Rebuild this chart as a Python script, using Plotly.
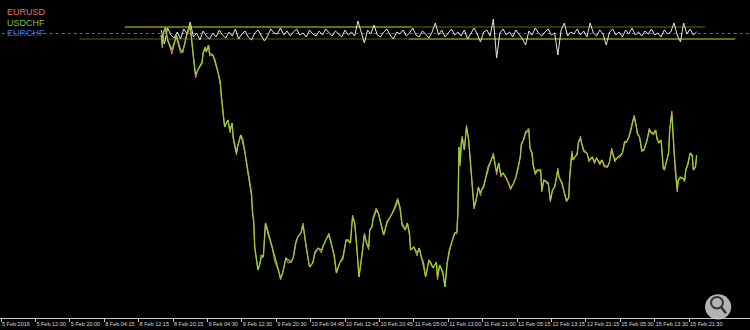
import plotly.graph_objects as go

# ---------------- data ----------------
tick_bars = [0, 32, 64, 96, 128, 160, 192, 224, 256, 288, 320, 352, 384, 416, 448, 480, 512, 544, 576, 608, 640]
tick_labels = ["5 Feb 2016", "5 Feb 12:00", "5 Feb 20:00", "8 Feb 04:15", "8 Feb 12:15", "8 Feb 20:15",
               "9 Feb 04:30", "9 Feb 12:30", "9 Feb 20:30", "10 Feb 04:45", "10 Feb 12:45", "10 Feb 20:45",
               "11 Feb 05:00", "11 Feb 13:00", "11 Feb 21:00", "12 Feb 05:15", "12 Feb 13:15", "12 Feb 21:15",
               "15 Feb 05:30", "15 Feb 13:30", "15 Feb 21:30"]

symbols = ["EURUSD", "USDCHF", "EURCHF"]
symbol_colors = ["#e07272", "#7fbf3a", "#3a6fe0"]

# USDCHF (normalised, bar index, value)
usdchf = [(149,283),(150,273),(151,285),(153,291),(155,278),(159,268),(162,278),(163,283),(167,268),(169,266),
          (171,275),(173,285),(176,293),(177,281),(179,261),(181,243),(183,248),(187,256),(188,265),(190,271),
          (191,266),(193,273),(194,265),(197,263),(199,258),(202,245),(204,236),(205,221),(207,198),(208,191),
          (211,198),(213,188),(215,195),(216,181),(219,165),(220,171),(223,183),(225,178),(227,165),(229,151),
          (231,135),(233,125),(234,105),(235,98),(236,71),(238,55),(239,48),(241,55),(242,63),(244,61),
          (246,95),(248,88),(252,71),(255,58),(258,48),(260,40),(262,45),(265,60),(267,58),(270,56),
          (272,61),(274,75),(276,81),(279,85),(281,93),(282,85),(284,71),(287,51),(290,55),(292,66),
          (295,70),(298,68),(300,73),(303,80),(305,83),(308,71),(310,63),(312,45),(315,55),(318,61),
          (321,78),(323,78),(325,75),(327,101),(329,95),(331,71),(333,41),(336,65),(338,83),(340,75),
          (342,71),(343,88),(345,91),(346,98),(349,108),(351,105),(354,93),(356,83),(359,95),(362,101),
          (364,105),(367,111),(369,118),(371,111),(373,95),(376,88),(378,95),(380,85),(381,68),(384,71),
          (387,65),(389,70),(391,61),(393,55),(395,41),(398,58),(400,55),(402,50),(405,56),(406,41),
          (408,53),(411,46),(413,31),(415,55),(417,68),(419,75),(422,85),(424,86),(425,105),(426,171),
          (427,155),(428,175),(429,180),(431,168),(433,191),(435,178),(437,151),(439,125),(440,111),(442,118),
          (444,131),(446,125),(447,128),(449,131),(451,140),(453,151),(456,158),(458,163),(460,151),(461,146),
          (463,155),(465,143),(467,145),(470,140),(472,135),(474,130),(477,135),(479,141),(481,151),(483,161),
          (484,173),(486,178),(488,185),(491,188),(492,170),(494,165),(495,153),(497,145),(499,148),(502,148),
          (503,128),(505,138),(508,136),(509,135),(511,118),(513,128),(515,131),(518,148),(519,141),(522,135),
          (524,125),(526,118),(528,120),(529,141),(531,165),(532,158),(534,161),(536,165),(537,175),(539,180),
          (540,175),(542,168),(545,165),(547,158),(550,161),(552,156),(554,160),(557,155),(559,158),(561,153),
          (564,151),(566,156),(568,168),(569,165),(571,158),(573,160),(576,163),(578,165),(580,175),(582,176),
          (584,181),(586,188),(588,198),(589,201),(591,191),(592,185),(594,181),(596,168),(598,168),(601,178),
          (603,188),(605,185),(607,185),(609,188),(610,181),(612,175),(614,178),(616,151),(617,148),(619,158),
          (621,165),(622,188),(624,205),(626,168),(627,151),(629,128),(630,138),(632,141),(634,140),(636,138),
          (637,148),(639,155),(641,165),(643,163),(644,148),(646,151),(647,163)]

# EURUSD (normalised, inverted, bar index, value)
eurusd = [(149,283),(150,270),(151,285),(153,289),(155,278),(159,264),(162,278),(163,281),(167,265),(169,266),
          (171,275),(173,283),(176,291),(177,281),(179,259),(181,240),(183,248),(187,254),(188,265),(190,269),
          (191,266),(193,273),(194,262),(197,263),(199,256),(202,245),(204,233),(205,221),(207,196),(208,191),
          (211,198),(213,185),(215,195),(216,179),(219,163),(220,171),(223,183),(225,175),(227,165),(229,149),
          (231,135),(233,122),(234,105),(235,96),(236,71),(238,52),(239,48),(241,55),(242,60),(244,61),
          (246,95),(248,85),(252,71),(255,55),(258,48),(260,38),(262,45),(265,60),(267,55),(270,56),
          (272,61),(274,73),(276,81),(279,85),(281,95),(282,85),(284,69),(287,51),(290,55),(292,64),
          (295,70),(298,65),(300,73),(303,80),(305,85),(308,71),(310,60),(312,45),(315,55),(318,58),
          (321,78),(323,76),(325,75),(327,103),(329,95),(331,69),(333,41),(336,65),(338,85),(340,75),
          (342,68),(343,88),(345,91),(346,100),(349,110),(351,105),(354,90),(356,83),(359,97),(362,101),
          (364,105),(367,113),(369,120),(371,111),(373,92),(376,88),(378,95),(380,82),(381,68),(384,71),
          (387,62),(389,70),(391,61),(393,52),(395,41),(398,58),(400,53),(402,50),(405,56),(406,38),
          (408,53),(411,44),(413,31),(415,55),(417,66),(419,75),(422,85),(424,84),(425,105),(426,171),
          (427,152),(428,175),(429,182),(431,168),(433,193),(435,178),(437,149),(439,125),(440,109),(442,118),
          (444,131),(446,122),(447,128),(449,133),(451,140),(453,149),(456,158),(458,165),(460,151),(461,143),
          (463,155),(465,141),(467,145),(470,138),(472,135),(474,128),(477,135),(479,141),(481,149),(483,161),
          (484,175),(486,178),(488,187),(491,190),(492,170),(494,163),(495,153),(497,143),(499,148),(502,146),
          (503,126),(505,138),(508,134),(509,135),(511,116),(513,128),(515,131),(518,150),(519,141),(522,133),
          (524,125),(526,116),(528,120),(529,141),(531,167),(532,158),(534,161),(536,163),(537,175),(539,182),
          (540,175),(542,166),(545,165),(547,156),(550,161),(552,154),(554,160),(557,153),(559,158),(561,151),
          (564,151),(566,156),(568,170),(569,165),(571,156),(573,160),(576,161),(578,165),(580,177),(582,176),
          (584,181),(586,190),(588,198),(589,203),(591,191),(592,183),(594,181),(596,166),(598,168),(601,178),
          (603,190),(605,185),(607,183),(609,188),(610,179),(612,175),(614,178),(616,149),(617,148),(619,156),
          (621,165),(622,188),(624,207),(626,168),(627,149),(629,126),(630,138),(632,139),(634,140),(636,136),
          (637,148),(639,153),(641,165),(643,161),(644,148),(646,151),(647,161)]

# ratio line (bars 149, 152, ... 647)
ratio_start, ratio_step = 149, 3
ratio_values = [288,274,290,283,280,286,279,289,284,296,
                281,285,278,287,282,279,285,281,288,283,
                280,286,282,289,279,284,287,281,278,285,
                288,283,277,282,289,285,284,290,283,287,
                282,286,289,283,285,281,288,284,282,287,
                283,289,285,282,287,284,281,288,283,286,
                282,297,285,275,288,284,293,283,281,286,
                289,283,279,286,284,288,282,285,290,283,
                281,287,284,280,286,295,283,288,281,285,
                289,283,286,282,288,279,285,290,284,276,
                286,288,282,299,260,285,289,283,286,281,
                288,284,279,273,287,283,290,285,282,286,
                289,283,285,263,288,295,282,286,284,289,
                283,287,281,295,285,282,288,284,273,286,
                289,283,286,281,288,284,290,283,286,282,
                287,284,289,283,285,281,288,284,286,295,
                283,276,295,284,289,283,286]

# level lines: (start bar, end bar, level, colour)
levels = [(115, 382, 291, "#d8d800"), (382, 655, 291, "#6a6a00"),
          (73, 379, 279, "#5a5a10"), (379, 683, 279, "#d8d800")]
mid_level = 284.5

# ---------------- figure ----------------
fig = go.Figure()

for (b0, b1, lv, col) in levels:
    fig.add_trace(go.Scatter(x=[b0, b1], y=[lv, lv], mode="lines",
                             line=dict(color=col, width=1), hoverinfo="skip", showlegend=False))

fig.add_trace(go.Scatter(x=[-5, 720], y=[mid_level, mid_level], mode="lines",
                         line=dict(color="#6e6e6e", width=1, dash="dot"), hoverinfo="skip", showlegend=False))

rx = [ratio_start + i * ratio_step for i in range(len(ratio_values))]
fig.add_trace(go.Scatter(x=rx, y=ratio_values, mode="lines", name="ratio",
                         line=dict(color="#e6e6e6", width=1), showlegend=False))

fig.add_trace(go.Scatter(x=[p[0] for p in eurusd], y=[p[1] for p in eurusd], mode="lines",
                         name=symbols[0], line=dict(color="#f07878", width=1), showlegend=False))
fig.add_trace(go.Scatter(x=[p[0] for p in usdchf], y=[p[1] for p in usdchf], mode="lines",
                         name=symbols[1], line=dict(color="#96d02a", width=1.3), showlegend=False))

# legend as coloured text
for i, (s, c) in enumerate(zip(symbols, symbol_colors)):
    fig.add_annotation(x=0.007, y=318 - (12 + 10.5 * i), xref="paper", yref="y", text=s,
                       showarrow=False, xanchor="left", yanchor="middle",
                       font=dict(family="Liberation Sans, Arial, sans-serif", size=9, color=c))

# zoom icon overlay
fig.add_shape(type="circle", xref="paper", yref="paper", x0=0.940, x1=0.975, y0=-0.005, y1=0.075,
              fillcolor="rgba(210,210,210,0.85)", line=dict(width=0), layer="above")
fig.add_shape(type="circle", xref="paper", yref="paper", x0=0.948, x1=0.964, y0=0.03, y1=0.066,
              line=dict(color="#333333", width=2), layer="above")
fig.add_shape(type="line", xref="paper", yref="paper", x0=0.962, x1=0.968, y0=0.033, y1=0.015,
              line=dict(color="#333333", width=2.5), layer="above")

fig.update_layout(
    width=750, height=330,
    margin=dict(l=0, r=0, t=0, b=12),
    paper_bgcolor="#000000", plot_bgcolor="#000000",
    showlegend=False,
    xaxis=dict(range=[-0.93, 696.7], tickmode="array", tickvals=tick_bars, ticktext=tick_labels,
               tickangle=0, automargin=False,
               showgrid=False, zeroline=False, showline=True, linecolor="#c8c8c8", linewidth=1,
               ticks="outside", ticklen=3, tickcolor="#c8c8c8", ticklabelposition="outside right",
               tickfont=dict(family="Liberation Sans, Arial, sans-serif", size=5.5, color="#d8d8d8")),
    yaxis=dict(range=[0, 318], showgrid=False, zeroline=False, showticklabels=False,
               showline=True, linecolor="#707070", linewidth=2),
)

fig.write_html("out.html")
